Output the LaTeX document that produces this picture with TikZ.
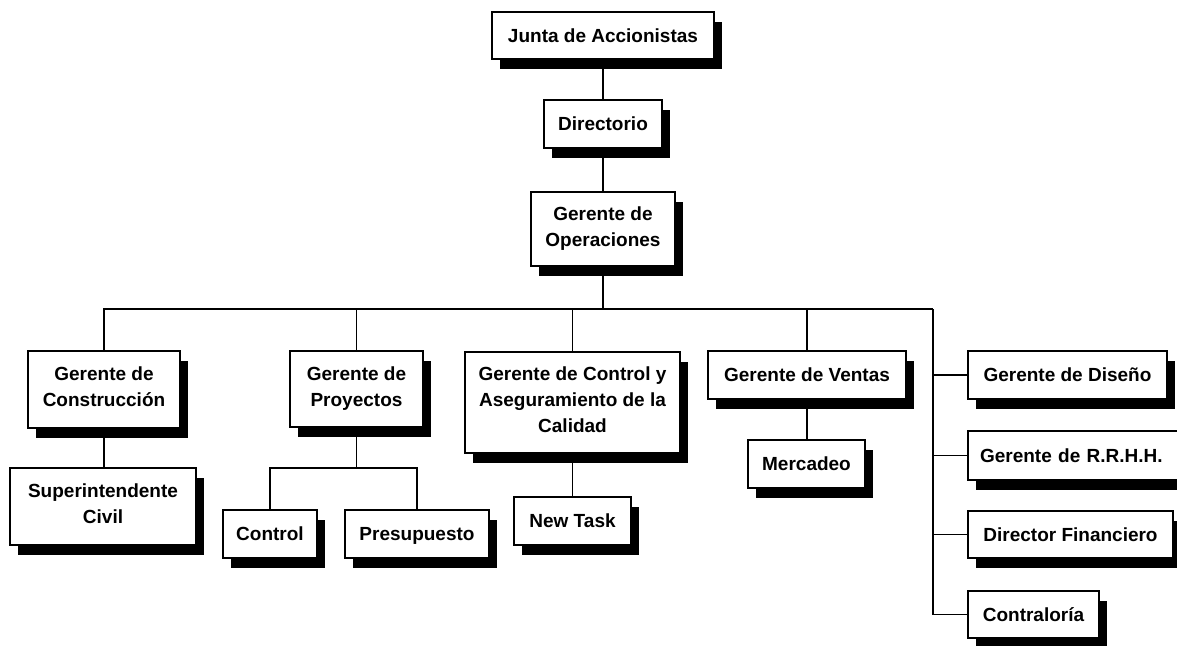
\documentclass[tikz,border=0pt]{standalone}
\usepackage{fontspec}
\setmainfont{Liberation Sans}
\usetikzlibrary{shadows}
% invisible struts so that every label is centred on its capitals
\newcommand\orgtopstrut{\rule{0pt}{19pt}}
\newcommand\orgbotstrut{\rule[-5.5pt]{0pt}{5.5pt}}
\begin{document}
\begin{tikzpicture}[x=1pt,y=-1pt,
  orgbox/.style={draw=black, fill=white, line width=1.6pt, rectangle,
    inner sep=0pt, outer sep=0pt, align=center,
    font=\fontsize{19}{26}\selectfont\bfseries,
    execute at begin node=\orgtopstrut,
    execute at end node=\orgbotstrut,
    drop shadow={shadow xshift=7.5pt, shadow yshift=-9.5pt, fill=black, opacity=1}},
  link/.style={draw=black, line width=1.6pt}]
  \fill[white] (0,0) rectangle (1177,645);
  \clip (0,0) rectangle (1177,645);

  % top of the chart
  \node[orgbox, minimum width=222pt, minimum height=47pt] (junta) at (603,35.5) {Junta de Accionistas};
  \node[orgbox, minimum width=118pt, minimum height=48pt] (dir) at (603,124) {Directorio};
  \node[orgbox, minimum width=144pt, minimum height=74pt] (gop) at (603,229) {Gerente de\\Operaciones};

  % managers under operations
  \node[orgbox, minimum width=152pt, minimum height=77pt] (gcon) at (104,389.5) {Gerente de\\Construcción};
  \node[orgbox, minimum width=186pt, minimum height=77pt] (sup) at (103,506.5) {Superintendente\\Civil};
  \node[orgbox, minimum width=133pt, minimum height=76pt] (gpro) at (356.5,389) {Gerente de\\Proyectos};
  \node[orgbox, minimum width=94pt, minimum height=48pt] (ctrl) at (270,534) {Control};
  \node[orgbox, minimum width=144pt, minimum height=48pt] (pres) at (417,534) {Presupuesto};
  \node[orgbox, minimum width=215pt, minimum height=101pt] (gcal) at (572.5,402.5) {Gerente de Control y\\Aseguramiento de la\\Calidad};
  \node[orgbox, minimum width=117pt, minimum height=48pt] (ntask) at (572.5,521) {New Task};
  \node[orgbox, minimum width=198pt, minimum height=48pt] (gven) at (807,375) {Gerente de Ventas};
  \node[orgbox, minimum width=117pt, minimum height=48pt] (merc) at (806.5,464) {Mercadeo};

  % staff column on the right
  \node[orgbox, minimum width=199pt, minimum height=48pt] (gdis) at (1067.5,375) {Gerente de Diseño};
  \node[orgbox, minimum width=224pt, minimum height=49pt, text width=200pt, align=left] (grh) at (1080,455.5) {Gerente de R.R.H.H.};
  \node[orgbox, minimum width=205pt, minimum height=47pt] (dfin) at (1070.5,534.5) {Director Financiero};
  \node[orgbox, minimum width=131pt, minimum height=47pt] (contr) at (1033.5,614.5) {Contraloría};

  % bus coordinates
  \coordinate (bus) at (603,309);
  \coordinate (rbus) at (933,309);
  \coordinate (pj) at (356.5,468);

  % connectors
  \draw[link] (junta.south) -- (dir.north);
  \draw[link] (dir.south) -- (gop.north);
  \draw[link] (gop.south) -- (bus);
  \draw[link] (gcon.north) |- (rbus);
  \draw[link] (gpro.north) -- (gpro.north |- bus);
  \draw[link] (gcal.north) -- (gcal.north |- bus);
  \draw[link] (gven.north) -- (gven.north |- bus);
  \draw[link] (rbus) |- (contr.west);
  \draw[link] (gdis.west -| rbus) -- (gdis.west);
  \draw[link] (grh.west -| rbus) -- (grh.west);
  \draw[link] (dfin.west -| rbus) -- (dfin.west);
  \draw[link] (gcon.south) -- (gcon.south |- sup.north);
  \draw[link] (gpro.south) -- (pj);
  \draw[link] (ctrl.north) |- (pj) -| (pres.north);
  \draw[link] (gcal.south) -- (ntask.north);
  \draw[link] (gven.south) -- (gven.south |- merc.north);
\end{tikzpicture}
\end{document}
